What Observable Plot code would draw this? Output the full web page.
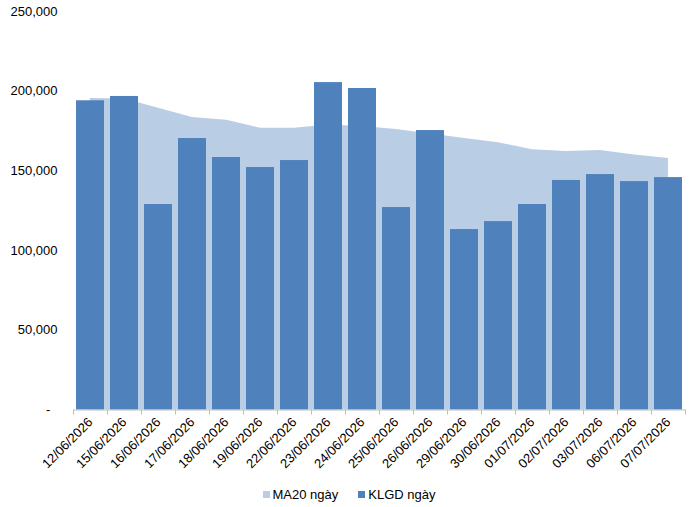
<!DOCTYPE html>
<html>
<head>
<meta charset="utf-8">
<script src="https://cdn.jsdelivr.net/npm/d3@7"></script>
<script src="https://cdn.jsdelivr.net/npm/@observablehq/plot@0.6"></script>
<style>
  html, body { margin: 0; padding: 0; background: #fff; }
  body { width: 692px; height: 507px; overflow: hidden; font-family: "Liberation Sans", Arial, sans-serif; }
  #legend { height: 33px; display: flex; justify-content: center; align-items: center; gap: 20px; font-size: 13px; color: #000; padding-left: 6px; }
  .item { display: flex; align-items: center; gap: 3px; }
  .sw { width: 7px; height: 7px; display: inline-block; }
</style>
</head>
<body>
<div id="chart"></div>
<div id="legend"></div>
<script>
const dates = ["12/06/2026","15/06/2026","16/06/2026","17/06/2026","18/06/2026","19/06/2026","22/06/2026","23/06/2026","24/06/2026","25/06/2026","26/06/2026","29/06/2026","30/06/2026","01/07/2026","02/07/2026","03/07/2026","06/07/2026","07/07/2026"];
const klgd = [194000,196700,128900,170300,158400,152100,156500,205400,201700,127000,175300,113200,118200,128900,144000,147700,143300,145800];
const ma20 = [195400,195100,189300,183500,181800,176800,176800,178800,177800,175900,173100,170300,167700,163300,162100,162800,160000,157800];
const yTicks = [0,50000,100000,150000,200000,250000];
const seriesNames = ["MA20 ngày","KLGD ngày"];
const colors = ["#B9CDE5","#4F81BD"];

const data = dates.map((d,i) => ({date: d, klgd: klgd[i], ma20: ma20[i]}));

const W = 692, H = 478, ML = 73, MR = 7, MT = 11, MB = 68.5;
const step = (W - ML - MR) / dates.length;
const fmt = d3.format(",");

const chart = Plot.plot({
  width: W, height: H,
  marginLeft: ML, marginRight: MR, marginTop: MT, marginBottom: MB,
  style: {fontFamily: "'Liberation Sans', Arial, sans-serif", fontSize: "12px", color: "#000", background: "#fff"},
  x: {type: "band", domain: dates, paddingInner: 0.18, paddingOuter: 0.09, axis: null},
  y: {domain: [0, 250000], axis: null},
  marks: [
    Plot.areaY(data, {x: "date", y: "ma20", fill: colors[0], curve: "linear"}),
    Plot.barY(data, {x: "date", y: "klgd", fill: colors[1]}),
    Plot.ruleY([0], {stroke: "#BFBFBF", strokeWidth: 1}),
    Plot.axisX({ticks: dates, tickSize: 5, tickFormat: () => "", dx: -step/2, stroke: "#BFBFBF", label: null}),
    Plot.axisX({ticks: [dates[dates.length-1]], tickSize: 5, tickFormat: () => "", dx: step/2, stroke: "#BFBFBF", label: null}),
    Plot.axisX({ticks: dates, tickSize: 0, tickPadding: 10, tickRotate: -45, fontSize: 13, fill: "#000", label: null}),
    Plot.axisY({ticks: yTicks, tickSize: 0, tickPadding: 16, fontSize: 13, fill: "#000", label: null,
      tickFormat: d => d === 0 ? "-\u2007" : fmt(d)})
  ]
});
document.getElementById("chart").appendChild(chart);

const legend = document.getElementById("legend");
seriesNames.forEach((n, i) => {
  const it = document.createElement("div");
  it.className = "item";
  const sw = document.createElement("span");
  sw.className = "sw";
  sw.style.background = colors[i];
  const t = document.createElement("span");
  t.textContent = n;
  it.appendChild(sw); it.appendChild(t);
  legend.appendChild(it);
});
</script>
</body>
</html>
